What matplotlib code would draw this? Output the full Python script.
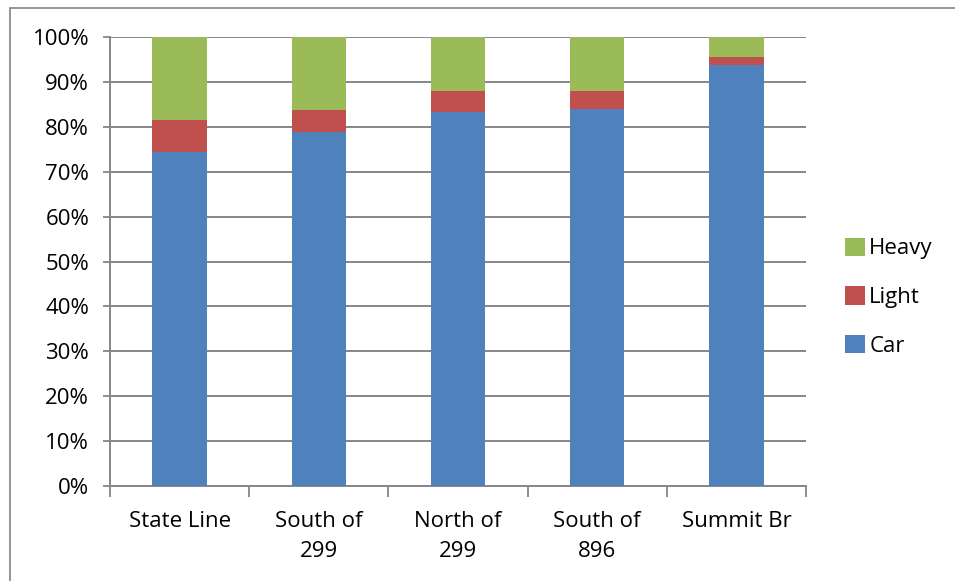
import numpy as np
import matplotlib.pyplot as plt
from matplotlib.patches import Rectangle

plt.rcParams['font.family'] = ['Open Sans', 'DejaVu Sans']

sites = ['State Line', 'South of\n299', 'North of\n299', 'South of\n896', 'Summit Br']
car = [74.3, 78.9, 83.4, 83.9, 93.7]
light = [7.3, 4.9, 4.5, 4.0, 1.8]
heavy = [100 - c - l for c, l in zip(car, light)]
yticks = np.arange(0, 101, 10)

W, H = 955, 581
fig = plt.figure(figsize=(W / 100, H / 100), dpi=100)
ax = fig.add_axes([110 / W, 1 - 486 / H, 696 / W, 449 / H])

# outer chart frame
fig.patches.append(Rectangle((10 / W, -0.05), 1.1, 1 - 8 / H + 0.05,
                             transform=fig.transFigure, fill=False,
                             edgecolor='#8c8c8c', linewidth=1.3))

fs = 16
x = np.arange(len(sites))
w = 0.39
ax.bar(x, car, w, color='#4f81bd', label='Car', zorder=3)
ax.bar(x, light, w, bottom=car, color='#c0504d', label='Light', zorder=3)
ax.bar(x, heavy, w, bottom=np.add(car, light), color='#9bbb59', label='Heavy', zorder=3)

ax.set_xlim(-0.5, len(sites) - 0.5)
ax.set_ylim(0, 100)
ax.set_yticks(yticks)
ax.set_yticklabels(['%d%%' % v for v in yticks], fontsize=fs)
ax.yaxis.grid(True, color='#868686', linewidth=1.4, zorder=0)

ax.set_xticks(x)
ax.set_xticklabels(sites, fontsize=fs, linespacing=1.55)
ax.tick_params(axis='x', length=0, pad=18)
ax.set_xticks(np.arange(-0.5, len(sites)), minor=True)
ax.tick_params(axis='x', which='minor', length=8, width=1.3, color='#868686')
ax.tick_params(axis='y', length=5, width=1.3, color='#868686', pad=10)

for s in ['top', 'right']:
    ax.spines[s].set_visible(False)
for s in ['left', 'bottom']:
    ax.spines[s].set_color('#868686')
    ax.spines[s].set_linewidth(1.4)

h, l = ax.get_legend_handles_labels()
fig.legend(h[::-1], l[::-1], loc='center left', bbox_to_anchor=(836 / W, 1 - 297 / H),
           frameon=False, fontsize=fs, handlelength=0.9, handleheight=0.9,
           handletextpad=0.2, labelspacing=1.2, borderaxespad=0)

fig.savefig('out.png', dpi=100)
